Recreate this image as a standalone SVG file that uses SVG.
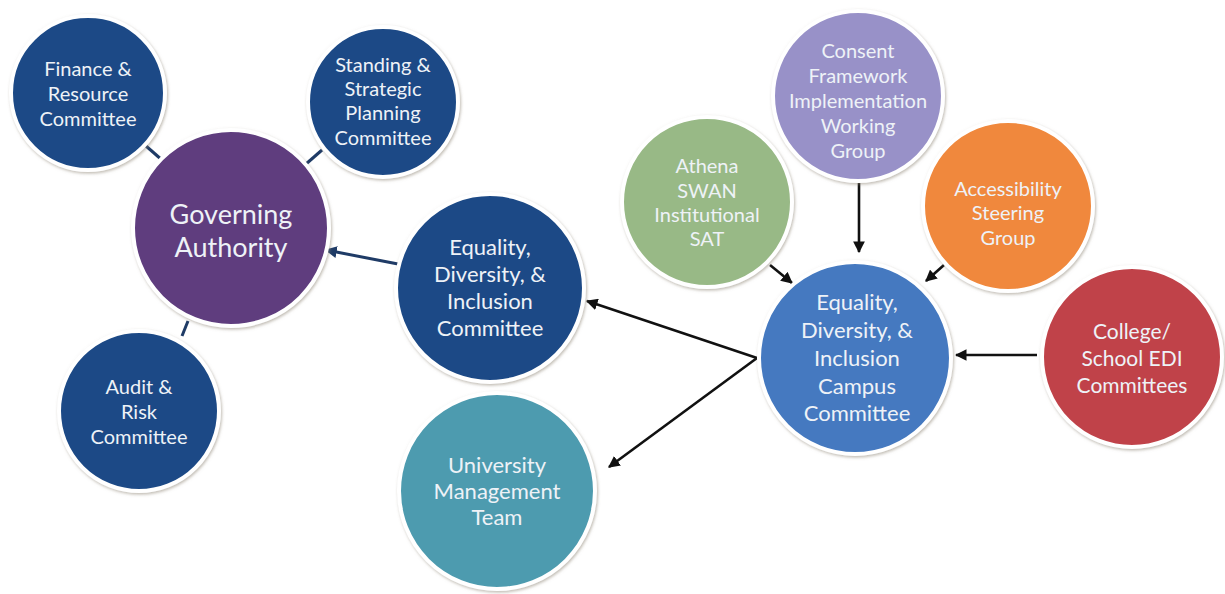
<svg xmlns="http://www.w3.org/2000/svg" width="1225" height="594" viewBox="0 0 1225 594">
  <style>
    .node { stroke: #ffffff; stroke-width: 4; filter: url(#halo); }
    .lbl { font-family: Lato, "Open Sans", sans-serif; fill: #eef2f7; text-anchor: middle; dominant-baseline: central; }
    .link { stroke: #1f3b66; stroke-width: 3; fill: none; }
    .flow { stroke: #111111; stroke-width: 2.6; fill: none; }
  </style>
  <defs>
    <filter id="halo" x="-10%" y="-10%" width="120%" height="120%">
      <feDropShadow dx="1" dy="1.5" stdDeviation="1.5" flood-color="#8a8270" flood-opacity="0.55"/>
    </filter>
    <marker id="headNavy" viewBox="0 0 10 10" refX="9" refY="5" markerWidth="4" markerHeight="4" orient="auto">
      <path d="M0,0 L10,5 L0,10 z" fill="#1f3b66"/>
    </marker>
    <marker id="headBlack" viewBox="0 0 10 10" refX="9" refY="5" markerWidth="4.5" markerHeight="4.5" orient="auto">
      <path d="M0,0 L10,5 L0,10 z" fill="#111111"/>
    </marker>
  </defs>

  <rect width="1225" height="594" fill="#ffffff"/>

  <g id="connectors">
    <line class="link" x1="146" y1="146" x2="162" y2="160"/>
    <line class="link" x1="322" y1="150" x2="306" y2="164"/>
    <line class="link" x1="182" y1="336" x2="188" y2="321"/>
    <line class="link" x1="398" y1="264" x2="326" y2="250" marker-end="url(#headNavy)"/>
    <line class="flow" x1="757" y1="358" x2="587" y2="301" marker-end="url(#headBlack)"/>
    <line class="flow" x1="757" y1="358" x2="609" y2="467" marker-end="url(#headBlack)"/>
    <line class="flow" x1="859" y1="183" x2="859" y2="252" marker-end="url(#headBlack)"/>
    <line class="flow" x1="770" y1="265" x2="792" y2="283" marker-end="url(#headBlack)"/>
    <line class="flow" x1="944" y1="265" x2="926" y2="281" marker-end="url(#headBlack)"/>
    <line class="flow" x1="1037" y1="355" x2="956" y2="355" stroke-width="3.6" marker-end="url(#headBlack)"/>
  </g>

  <g id="finance">
    <circle class="node" cx="88" cy="93" r="77" fill="#1d4a86"/>
    <text class="lbl" font-size="20"><tspan x="88" y="68">Finance &amp;</tspan><tspan x="88" y="93">Resource</tspan><tspan x="88" y="118">Committee</tspan></text>
  </g>

  <g id="standing">
    <circle class="node" cx="383" cy="102" r="75" fill="#1d4a86"/>
    <text class="lbl" font-size="20"><tspan x="383" y="64">Standing &amp;</tspan><tspan x="383" y="88">Strategic</tspan><tspan x="383" y="112">Planning</tspan><tspan x="383" y="137">Committee</tspan></text>
  </g>

  <g id="governing">
    <circle class="node" cx="231" cy="228" r="98" fill="#5e3d7e"/>
    <text class="lbl" font-size="27"><tspan x="231" y="213">Governing</tspan><tspan x="231" y="246">Authority</tspan></text>
  </g>

  <g id="audit">
    <circle class="node" cx="139" cy="411" r="80" fill="#1d4a86"/>
    <text class="lbl" font-size="20"><tspan x="139" y="386">Audit &amp;</tspan><tspan x="139" y="411">Risk</tspan><tspan x="139" y="436">Committee</tspan></text>
  </g>

  <g id="edi">
    <circle class="node" cx="490" cy="288" r="94" fill="#1d4a86"/>
    <text class="lbl" font-size="22"><tspan x="490" y="246">Equality,</tspan><tspan x="490" y="273">Diversity, &amp;</tspan><tspan x="490" y="300">Inclusion</tspan><tspan x="490" y="327">Committee</tspan></text>
  </g>

  <g id="umt">
    <circle class="node" cx="497" cy="491" r="98" fill="#4e9baf"/>
    <text class="lbl" font-size="22"><tspan x="497" y="464">University</tspan><tspan x="497" y="490">Management</tspan><tspan x="497" y="516">Team</tspan></text>
  </g>

  <g id="athena">
    <circle class="node" cx="707" cy="202" r="85" fill="#98b986"/>
    <text class="lbl" font-size="20"><tspan x="707" y="165">Athena</tspan><tspan x="707" y="190">SWAN</tspan><tspan x="707" y="214">Institutional</tspan><tspan x="707" y="238">SAT</tspan></text>
  </g>

  <g id="consent">
    <circle class="node" cx="858" cy="96" r="85" fill="#9891c8"/>
    <text class="lbl" font-size="20"><tspan x="858" y="50">Consent</tspan><tspan x="858" y="75">Framework</tspan><tspan x="858" y="100">Implementation</tspan><tspan x="858" y="125">Working</tspan><tspan x="858" y="150">Group</tspan></text>
  </g>

  <g id="accessibility">
    <circle class="node" cx="1008" cy="206" r="85" fill="#f0883c"/>
    <text class="lbl" font-size="20"><tspan x="1008" y="188">Accessibility</tspan><tspan x="1008" y="212">Steering</tspan><tspan x="1008" y="237">Group</tspan></text>
  </g>

  <g id="campus">
    <circle class="node" cx="855" cy="358" r="96" fill="#4479c0"/>
    <text class="lbl" font-size="22"><tspan x="857" y="301">Equality,</tspan><tspan x="857" y="329">Diversity, &amp;</tspan><tspan x="857" y="357">Inclusion</tspan><tspan x="857" y="385">Campus</tspan><tspan x="857" y="412">Committee</tspan></text>
  </g>

  <g id="college">
    <circle class="node" cx="1132" cy="357" r="90" fill="#c0434a"/>
    <text class="lbl" font-size="21"><tspan x="1132" y="330">College/</tspan><tspan x="1132" y="357">School EDI</tspan><tspan x="1132" y="384">Committees</tspan></text>
  </g>
</svg>
